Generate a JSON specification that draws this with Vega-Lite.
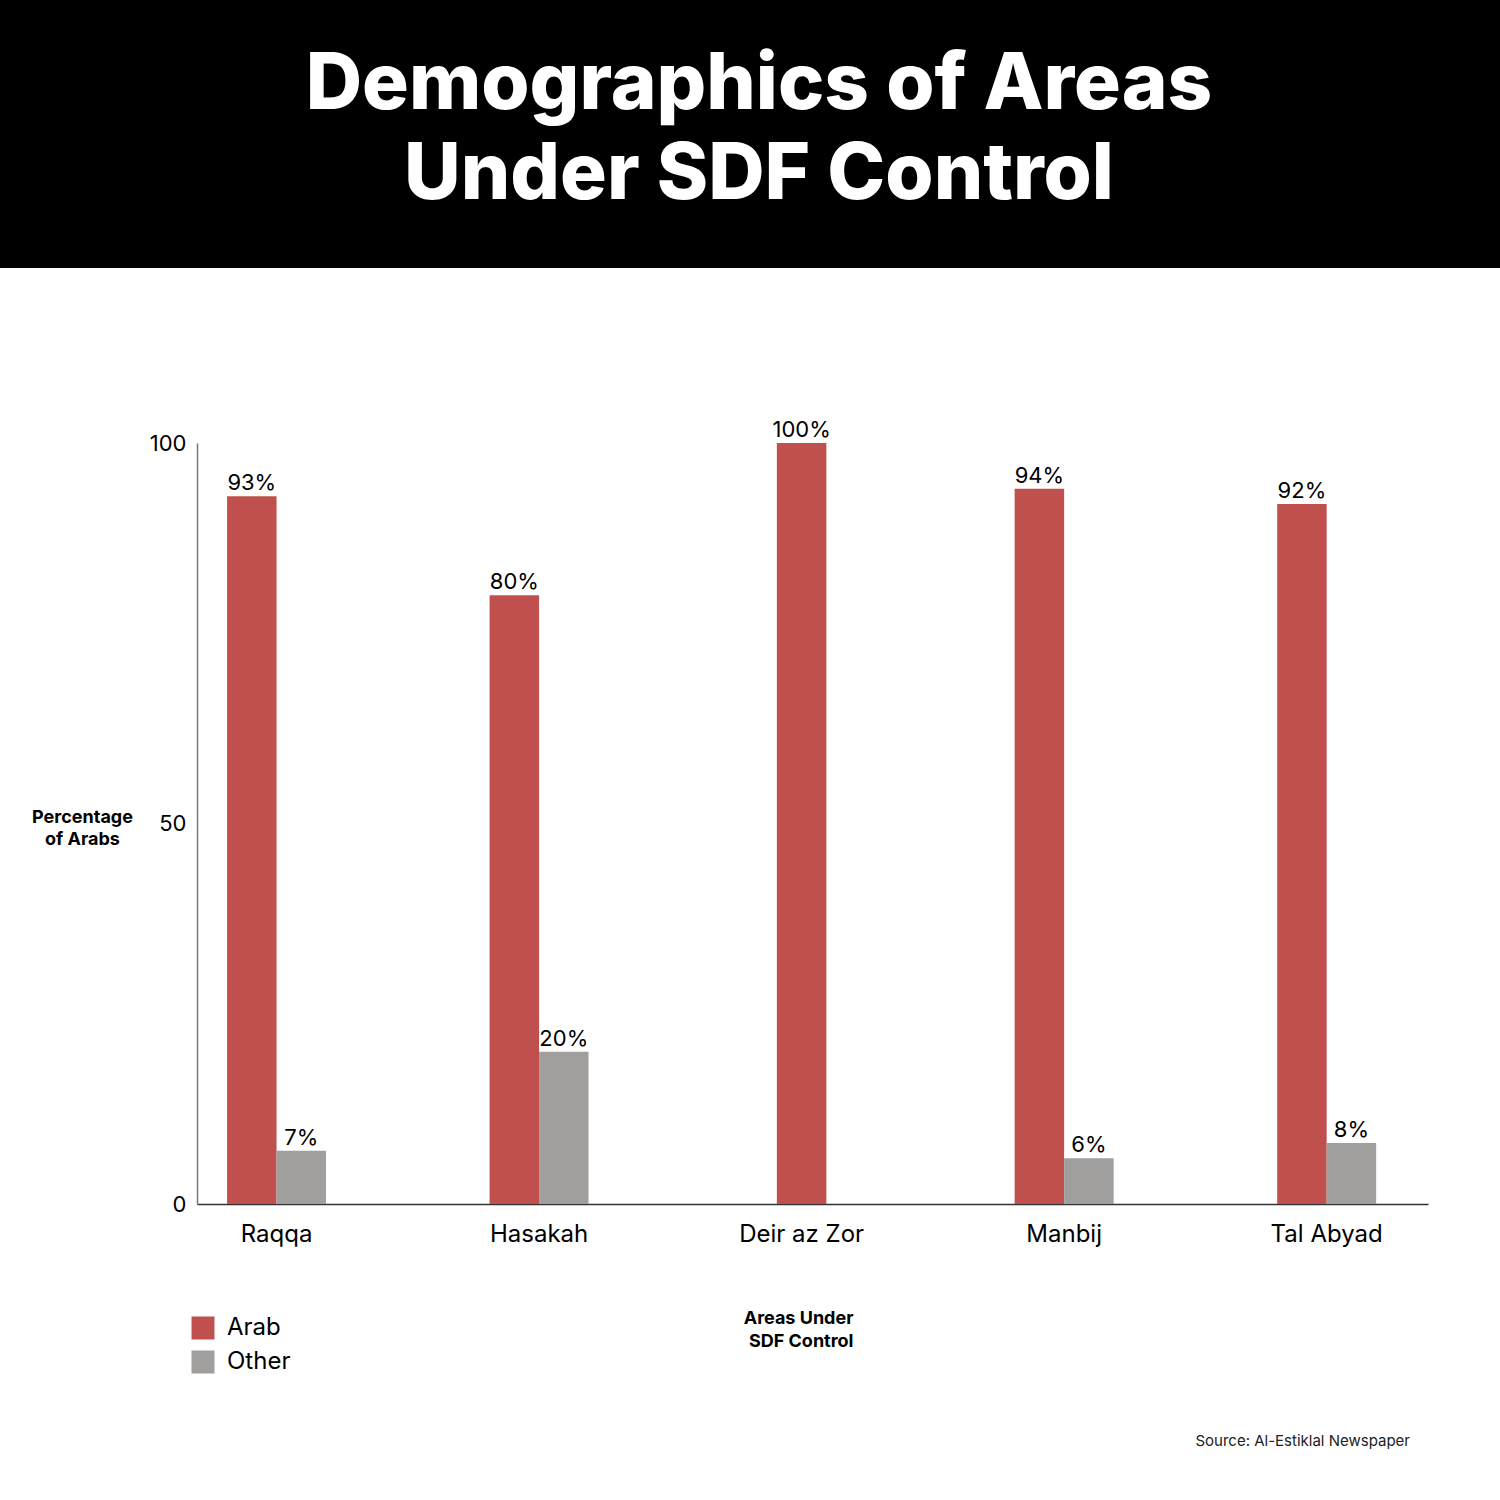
{
  "$schema": "https://vega.github.io/schema/vega-lite/v6.json",
  "padding": 0,
  "background": "white",
  "spacing": 151,
  "config": {"view": {"stroke": null}, "font": "Inter"},
  "vconcat": [
    {
      "width": 1500,
      "height": 268,
      "view": {"fill": "black", "stroke": null},
      "data": {"values": [{"title": "Demographics of Areas\nUnder SDF Control"}]},
      "mark": {"type": "text", "lineBreak": "\n", "color": "white", "font": "Inter", "fontWeight": 800, "fontSize": 78, "lineHeight": 90, "align": "center", "baseline": "middle", "dx": 9, "dy": -48},
      "encoding": {"text": {"field": "title", "type": "nominal"}}
    },
    {
      "width": 1428,
      "height": 761,
      "title": {"text": "Source: Al-Estiklal Newspaper", "orient": "bottom", "anchor": "end", "frame": "group", "fontSize": 15, "fontWeight": "normal", "color": "#222222", "font": "Inter", "dx": -18, "offset": 84},
      "data": {"values": [
        {"city": "Raqqa", "group": "Arab", "value": 93, "label": "93%"},
        {"city": "Raqqa", "group": "Other", "value": 7, "label": "7%"},
        {"city": "Hasakah", "group": "Arab", "value": 80, "label": "80%"},
        {"city": "Hasakah", "group": "Other", "value": 20, "label": "20%"},
        {"city": "Deir az Zor", "group": "Arab", "value": 100, "label": "100%"},
        {"city": "Manbij", "group": "Arab", "value": 94, "label": "94%"},
        {"city": "Manbij", "group": "Other", "value": 6, "label": "6%"},
        {"city": "Tal Abyad", "group": "Arab", "value": 92, "label": "92%"},
        {"city": "Tal Abyad", "group": "Other", "value": 8, "label": "8%"}
      ]},
      "encoding": {
        "x": {
          "field": "city", "type": "nominal",
          "sort": ["Raqqa", "Hasakah", "Deir az Zor", "Manbij", "Tal Abyad"],
          "scale": {"range": [197, 1428], "paddingInner": 0.623, "paddingOuter": 0.156, "align": 0.367},
          "axis": {
            "title": ["Areas Under", "SDF Control"],
            "titleX": 853, "titleY": 119, "titleAlign": "right", "titleBaseline": "alphabetic",
            "titleFontSize": 18, "titleFontWeight": 700, "titleLineHeight": 23, "titleColor": "black", "titleFont": "Inter",
            "labelAngle": 0, "labelFontSize": 24, "labelPadding": 18, "labelColor": "black", "labelFont": "Inter",
            "ticks": false, "domainColor": "#333333", "domainWidth": 1.5, "grid": false
          }
        },
        "y": {
          "field": "value", "type": "quantitative",
          "scale": {"domain": [0, 100], "nice": false},
          "axis": {
            "values": [0, 50, 100],
            "offset": -197,
            "title": ["Percentage", "of Arabs"],
            "titleAngle": 0, "titleX": -115, "titleY": 379, "titleAlign": "center", "titleBaseline": "alphabetic",
            "titleFontSize": 18, "titleFontWeight": 700, "titleLineHeight": 22, "titleColor": "black", "titleFont": "Inter",
            "grid": false, "ticks": false,
            "labelPadding": 11, "labelFontSize": 22, "labelColor": "black", "labelFont": "Inter", "labelFlush": false,
            "domainColor": "#777777", "domainWidth": 1.5
          }
        }
      },
      "layer": [
        {
          "transform": [{"filter": "datum.city != 'Deir az Zor'"}],
          "mark": {"type": "bar"},
          "encoding": {
            "xOffset": {"field": "group", "type": "nominal", "scale": {"domain": ["Arab", "Other"], "paddingInner": 0, "paddingOuter": 0}},
            "color": {"field": "group", "type": "nominal", "scale": {"domain": ["Arab", "Other"], "range": ["#C0504D", "#A09F9D"]},
              "legend": {"title": null, "orient": "none", "legendX": 191, "legendY": 1316, "symbolType": "square", "symbolSize": 529, "symbolStrokeWidth": 0,
                "labelFontSize": 24, "labelFont": "Inter", "labelColor": "black", "labelOffset": 12, "rowPadding": 10, "padding": 0}}
          }
        },
        {
          "transform": [{"filter": "datum.city == 'Deir az Zor'"}],
          "mark": {"type": "bar", "width": 49.5},
          "encoding": {
            "color": {"field": "group", "type": "nominal", "scale": {"domain": ["Arab", "Other"], "range": ["#C0504D", "#A09F9D"]}}
          }
        },
        {
          "transform": [{"filter": "datum.city != 'Deir az Zor'"}],
          "mark": {"type": "text", "baseline": "alphabetic", "dy": -6, "fontSize": 22, "color": "black", "font": "Inter"},
          "encoding": {
            "xOffset": {"field": "group", "type": "nominal", "scale": {"domain": ["Arab", "Other"], "paddingInner": 0, "paddingOuter": 0}},
            "text": {"field": "label", "type": "nominal"}
          }
        },
        {
          "transform": [{"filter": "datum.city == 'Deir az Zor'"}],
          "mark": {"type": "text", "baseline": "alphabetic", "dy": -6, "fontSize": 22, "color": "black", "font": "Inter"},
          "encoding": {
            "text": {"field": "label", "type": "nominal"}
          }
        }
      ]
    }
  ]
}
